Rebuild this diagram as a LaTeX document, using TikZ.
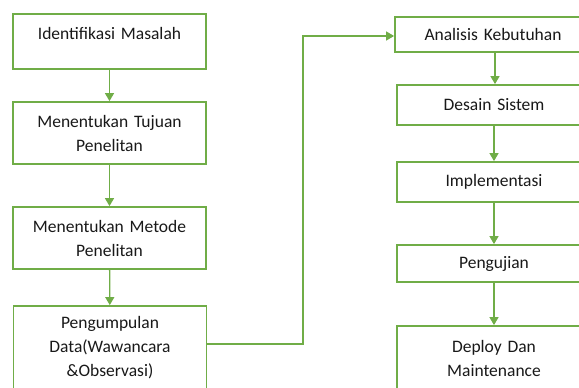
\documentclass[tikz,border=0pt]{standalone}
\usepackage{fontspec}
\setmainfont{Carlito}
\usetikzlibrary{arrows.meta}
\definecolor{ogreen}{HTML}{70AD47}
\begin{document}
\begin{tikzpicture}[x=1pt,y=-1pt,
  box/.style={draw=ogreen,line width=1.8pt,fill=white,minimum width=193pt,
    align=center,text width=185pt,inner sep=0pt,
    font=\fontsize{17.5}{24}\selectfont,text=black!90},
  conn/.style={draw=ogreen,line width=1.3pt,-{Triangle[width=9pt,length=8pt]}}]
\useasboundingbox (0,0) rectangle (579,388);
\clip (0,0) rectangle (579,388);
% left column
\node[box,minimum height=55pt,text depth=17pt] (b1) at (109.5,41.5) {Identifikasi Masalah};
\node[box,minimum height=62pt] (b2) at (109.5,133) {Menentukan Tujuan\\Penelitan};
\node[box,minimum height=62pt] (b3) at (109.5,238) {Menentukan Metode\\Penelitan};
\node[box,minimum height=84pt] (b4) at (110,348) {Pengumpulan\\Data(Wawancara\\\&Observasi)};
% right column
\node[box,minimum height=35pt,minimum width=196pt] (r1) at (493,34.5) {Analisis Kebutuhan};
\node[box,minimum height=40pt,minimum width=194pt] (r2) at (494,105) {Desain Sistem};
\node[box,minimum height=40pt,minimum width=194pt] (r3) at (494,182) {Implementasi};
\node[box,minimum height=37pt,minimum width=194pt] (r4) at (494,263.5) {Pengujian};
\node[box,minimum height=64pt,minimum width=194pt] (r5) at (494,358) {Deploy Dan\\Maintenance};
% connectors
\draw[conn] (b1) -- (b2);
\draw[conn] (b2) -- (b3);
\draw[conn] (b3) -- (b4);
\coordinate (k1) at (303,344);
\coordinate (k2) at (303,36);
\draw[conn] (b4.east |- k1) -- (k1) -- (k2) -- (r1.west |- k2);
\draw[conn] (r1.south -| 495,0) -- (r2.north -| 495,0);
\draw[conn] (r2.south -| 494,0) -- (r3.north -| 494,0);
\draw[conn] (r3.south -| 494,0) -- (r4.north -| 494,0);
\draw[conn] (r4.south -| 494,0) -- (r5.north -| 494,0);
\end{tikzpicture}
\end{document}
